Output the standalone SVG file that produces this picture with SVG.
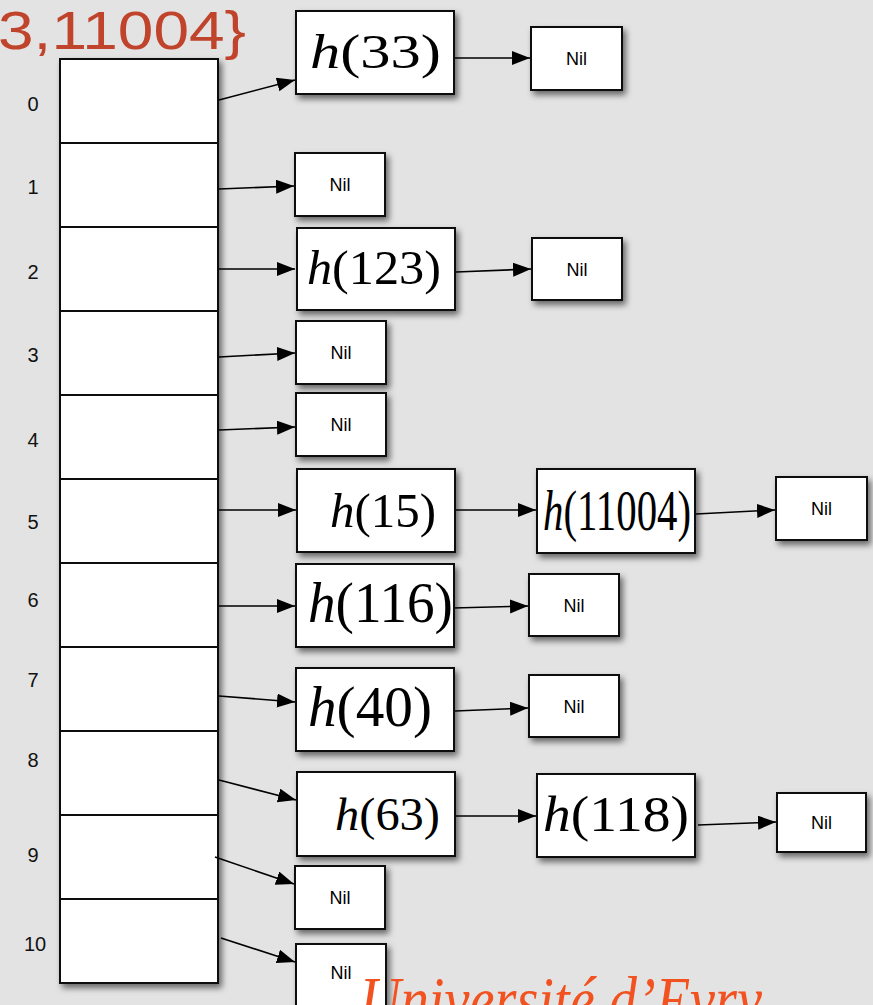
<svg xmlns="http://www.w3.org/2000/svg" width="873" height="1005" viewBox="0 0 873 1005">
<style>
.box{fill:#fff;stroke:#111;stroke-width:2}
.cell{fill:#fff;stroke:#111;stroke-width:2}
.nil{font-family:"Liberation Sans",Arial,sans-serif;font-size:18px;fill:#000;text-anchor:middle}
.idx{font-family:"Liberation Sans",Arial,sans-serif;font-size:20px;fill:#111;text-anchor:middle}
.math{font-family:"Liberation Serif","DejaVu Serif",serif;fill:#000}
.hi{font-style:italic}
.conn{stroke:#000;stroke-width:1.6;fill:none;marker-end:url(#ah)}
</style>
<defs>
<filter id="sh" x="-20%" y="-20%" width="150%" height="150%">
<feDropShadow dx="3" dy="4" stdDeviation="3" flood-color="#000" flood-opacity="0.55"/>
</filter>
<marker id="ah" markerUnits="userSpaceOnUse" markerWidth="19" markerHeight="15" refX="18" refY="7" orient="auto">
<path d="M0,0 L18,7 L0,14 z" fill="#000"/>
</marker>
</defs>
<rect width="873" height="1005" fill="#e3e3e3"/>
<text x="-2" y="49" font-family="'Gill Sans','Liberation Sans',sans-serif" font-size="54" fill="#c0432c" textLength="248" lengthAdjust="spacingAndGlyphs">3,11004}</text>

<g id="table" filter="url(#sh)">
<rect class="cell" x="60" y="59" width="158" height="84"/>
<rect class="cell" x="60" y="143" width="158" height="84"/>
<rect class="cell" x="60" y="227" width="158" height="84"/>
<rect class="cell" x="60" y="311" width="158" height="84"/>
<rect class="cell" x="60" y="395" width="158" height="84"/>
<rect class="cell" x="60" y="479" width="158" height="84"/>
<rect class="cell" x="60" y="563" width="158" height="84"/>
<rect class="cell" x="60" y="647" width="158" height="84"/>
<rect class="cell" x="60" y="731" width="158" height="84"/>
<rect class="cell" x="60" y="815" width="158" height="84"/>
<rect class="cell" x="60" y="899" width="158" height="84"/>
</g>
<g id="labels">
<text class="idx" x="33" y="111">0</text>
<text class="idx" x="33" y="194">1</text>
<text class="idx" x="33" y="279">2</text>
<text class="idx" x="33" y="362">3</text>
<text class="idx" x="33" y="447">4</text>
<text class="idx" x="33" y="529">5</text>
<text class="idx" x="33" y="607">6</text>
<text class="idx" x="33" y="687">7</text>
<text class="idx" x="33" y="767">8</text>
<text class="idx" x="33" y="862">9</text>
<text class="idx" x="35" y="951">10</text>
</g>

<g id="connectors">
<line class="conn" x1="219" y1="100" x2="295" y2="80"/>
<line class="conn" x1="455" y1="58" x2="530" y2="58"/>
<line class="conn" x1="219" y1="189" x2="294" y2="186"/>
<line class="conn" x1="219" y1="269" x2="295" y2="269"/>
<line class="conn" x1="456" y1="272" x2="531" y2="269"/>
<line class="conn" x1="219" y1="357" x2="295" y2="353"/>
<line class="conn" x1="219" y1="430" x2="295" y2="427"/>
<line class="conn" x1="219" y1="510" x2="296" y2="510"/>
<line class="conn" x1="456" y1="510" x2="536" y2="510"/>
<line class="conn" x1="696" y1="514" x2="775" y2="510"/>
<line class="conn" x1="219" y1="606" x2="295" y2="606"/>
<line class="conn" x1="453" y1="608" x2="528" y2="606"/>
<line class="conn" x1="219" y1="696" x2="295" y2="702"/>
<line class="conn" x1="455" y1="711" x2="528" y2="708"/>
<line class="conn" x1="219" y1="780" x2="296" y2="800"/>
<line class="conn" x1="456" y1="816" x2="536" y2="816"/>
<line class="conn" x1="698" y1="825" x2="776" y2="822"/>
<line class="conn" x1="215" y1="857" x2="294" y2="884"/>
<line class="conn" x1="221" y1="938" x2="295" y2="962"/>
</g>

<g id="n33"><rect class="box" filter="url(#sh)" x="296" y="11" width="158" height="83"/><text class="math" x="310" y="68" font-size="48" textLength="131" lengthAdjust="spacingAndGlyphs"><tspan class="hi">h</tspan>(33)</text></g>
<g id="nil0"><rect class="box" filter="url(#sh)" x="531" y="27" width="91" height="63"/><text class="nil" x="576.5" y="65">Nil</text></g>
<g id="nil1"><rect class="box" filter="url(#sh)" x="295" y="153" width="90" height="63"/><text class="nil" x="340" y="191">Nil</text></g>
<g id="n123"><rect class="box" filter="url(#sh)" x="297" y="228" width="158" height="82"/><text class="math" x="307" y="284" font-size="48" textLength="134" lengthAdjust="spacingAndGlyphs"><tspan class="hi">h</tspan>(123)</text></g>
<g id="nil2"><rect class="box" filter="url(#sh)" x="532" y="238" width="90" height="62"/><text class="nil" x="577" y="276">Nil</text></g>
<g id="nil3"><rect class="box" filter="url(#sh)" x="296" y="321" width="90" height="63"/><text class="nil" x="341" y="359">Nil</text></g>
<g id="nil4"><rect class="box" filter="url(#sh)" x="296" y="393" width="90" height="63"/><text class="nil" x="341" y="431">Nil</text></g>
<g id="n15"><rect class="box" filter="url(#sh)" x="297" y="469" width="158" height="83"/><text class="math" x="330" y="527" font-size="48" textLength="106" lengthAdjust="spacingAndGlyphs"><tspan class="hi">h</tspan>(15)</text></g>
<g id="n11004"><rect class="box" filter="url(#sh)" x="537" y="469" width="158" height="84"/><text class="math" x="543" y="530" font-size="56" textLength="148" lengthAdjust="spacingAndGlyphs"><tspan class="hi">h</tspan>(11004)</text></g>
<g id="nil5"><rect class="box" filter="url(#sh)" x="776" y="477" width="91" height="63"/><text class="nil" x="821.5" y="515">Nil</text></g>
<g id="n116"><rect class="box" filter="url(#sh)" x="296" y="564" width="158" height="83"/><text class="math" x="308" y="622" font-size="56" textLength="145" lengthAdjust="spacingAndGlyphs"><tspan class="hi">h</tspan>(116)</text></g>
<g id="nil6"><rect class="box" filter="url(#sh)" x="529" y="574" width="90" height="62"/><text class="nil" x="574" y="612">Nil</text></g>
<g id="n40"><rect class="box" filter="url(#sh)" x="296" y="668" width="158" height="83"/><text class="math" x="308" y="726" font-size="56" textLength="124" lengthAdjust="spacingAndGlyphs"><tspan class="hi">h</tspan>(40)</text></g>
<g id="nil7"><rect class="box" filter="url(#sh)" x="529" y="675" width="90" height="62"/><text class="nil" x="574" y="713">Nil</text></g>
<g id="n63"><rect class="box" filter="url(#sh)" x="297" y="772" width="158" height="84"/><text class="math" x="335" y="830" font-size="46" textLength="105" lengthAdjust="spacingAndGlyphs"><tspan class="hi">h</tspan>(63)</text></g>
<g id="n118"><rect class="box" filter="url(#sh)" x="537" y="774" width="158" height="83"/><text class="math" x="543" y="831" font-size="50" textLength="146" lengthAdjust="spacingAndGlyphs"><tspan class="hi">h</tspan>(118)</text></g>
<g id="nil8"><rect class="box" filter="url(#sh)" x="777" y="793" width="89" height="59"/><text class="nil" x="821.5" y="829">Nil</text></g>
<g id="nil9"><rect class="box" filter="url(#sh)" x="295" y="866" width="90" height="63"/><text class="nil" x="340" y="904">Nil</text></g>
<g id="nil10"><rect class="box" filter="url(#sh)" x="296" y="944" width="90" height="70"/><text class="nil" x="341" y="979">Nil</text></g>

<text x="360" y="1022" font-family="'Liberation Serif',serif" font-style="italic" font-size="66" fill="#f2521f" textLength="402" lengthAdjust="spacingAndGlyphs">Université d’Evry</text>
</svg>
